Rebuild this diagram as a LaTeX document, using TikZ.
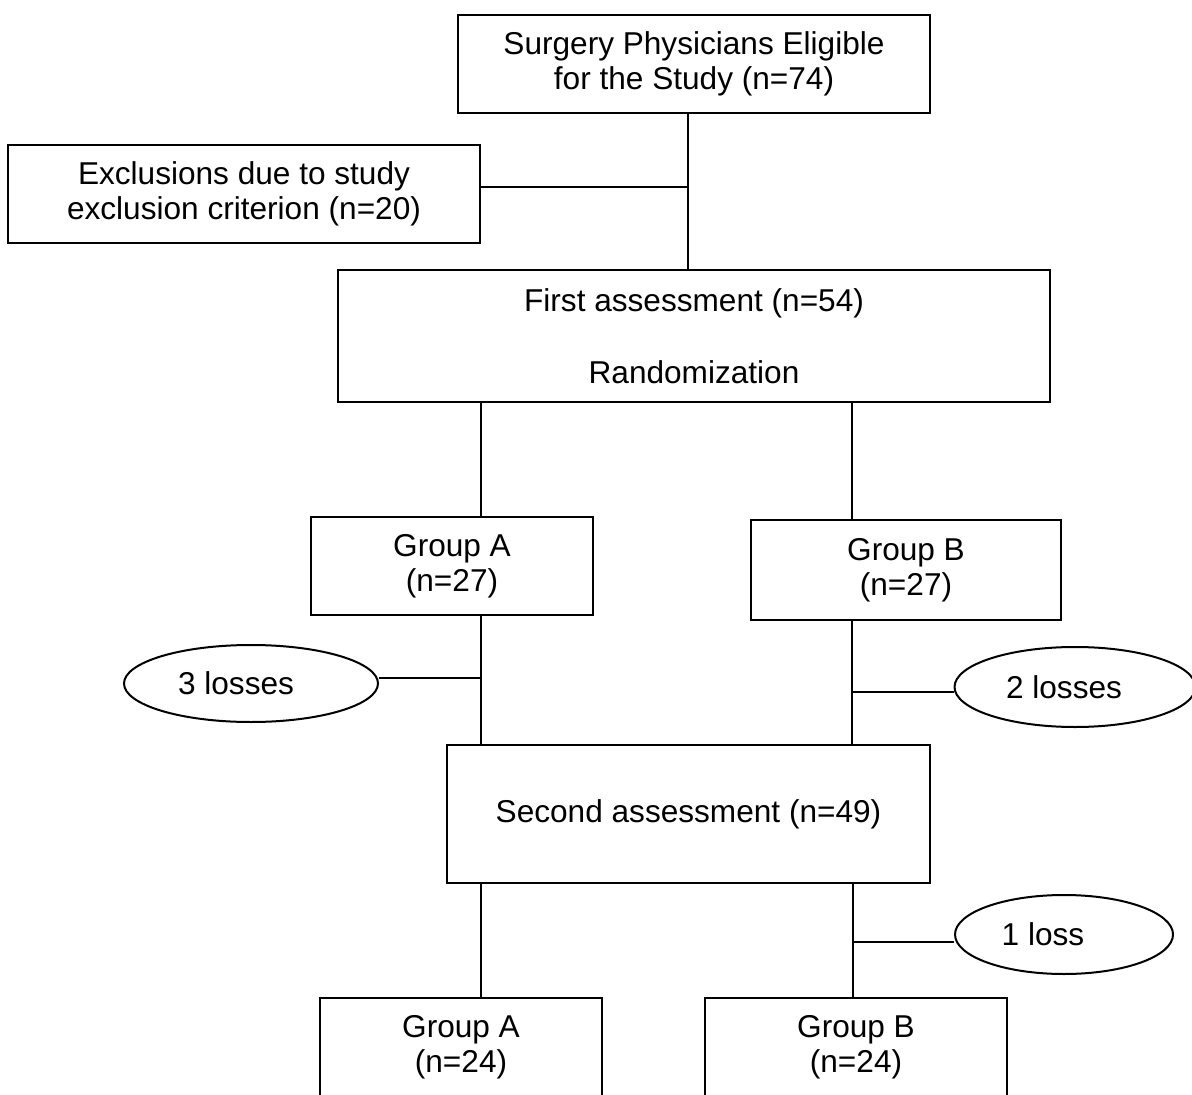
\documentclass[tikz,border=0pt]{standalone}
\usepackage{fontspec}
\setmainfont{Liberation Sans}
\usetikzlibrary{shapes.geometric}

\begin{document}
\begin{tikzpicture}[x=0.5pt,y=-0.5pt,line width=1pt,
  every node/.style={font=\fontsize{15.8}{17.5}\selectfont},
  box/.style={draw,rectangle,align=center,inner sep=0pt},
  loss/.style={draw,ellipse,inner sep=0pt}]
\useasboundingbox (0,0) rectangle (1192,1095);
\clip (0,0) rectangle (1192,1095);
\node[box,minimum width=236pt,minimum height=49pt] (elig) at (694,64) {Surgery Physicians Eligible\\for the Study (n=74)};
\node[box,minimum width=236pt,minimum height=49pt] (excl) at (244,194) {Exclusions due to study\\exclusion criterion (n=20)};
\node[box,minimum width=356pt,minimum height=66pt] (first) at (694,336) {First assessment (n=54)\\[18.5pt]Randomization};
\node[box,minimum width=141pt,minimum height=49pt] (gAone) at (452,566) {Group A\\(n=27)};
\node[box,minimum width=155pt,minimum height=50pt] (gBone) at (906,570) {Group B\\(n=27)};
\node[loss,minimum width=127pt,minimum height=38.5pt] (lthree) at (251,683.5) {3 losses\kern15pt};
\node[loss,minimum width=120.5pt,minimum height=40pt] (ltwo) at (1075,687) {2 losses\kern11pt};
\node[box,minimum width=241.5pt,minimum height=69pt] (second) at (688.5,814) {Second assessment (n=49)};
\node[loss,minimum width=109pt,minimum height=39.5pt] (lone) at (1064,934.5) {1 loss\kern21pt};
\node[box,minimum width=141pt,minimum height=49pt] (gAtwo) at (461,1047) {Group A\\(n=24)};
\node[box,minimum width=151pt,minimum height=49pt] (gBtwo) at (856,1047) {Group B\\(n=24)};

\coordinate (sp) at (688,187);
\coordinate (cA) at (481,678);
\coordinate (cB) at (852,692);
\coordinate (cC) at (853,942);
\draw (elig.south -| sp) -- (first.north -| sp);
\draw (excl.east |- sp) -- (sp);
\draw (first.south -| cA) -- (gAone.north -| cA);
\draw (first.south -| cB) -- (gBone.north -| cB);
\draw (gAone.south -| cA) -- (second.north -| cA);
\draw (gBone.south -| cB) -- (second.north -| cB);
\draw (lthree.east |- cA) -- (cA);
\draw (cB) -- (ltwo.west |- cB);
\draw (second.south -| cA) -- (gAtwo.north -| cA);
\draw (second.south -| cC) -- (gBtwo.north -| cC);
\draw (cC) -- (lone.west |- cC);
\end{tikzpicture}
\end{document}
